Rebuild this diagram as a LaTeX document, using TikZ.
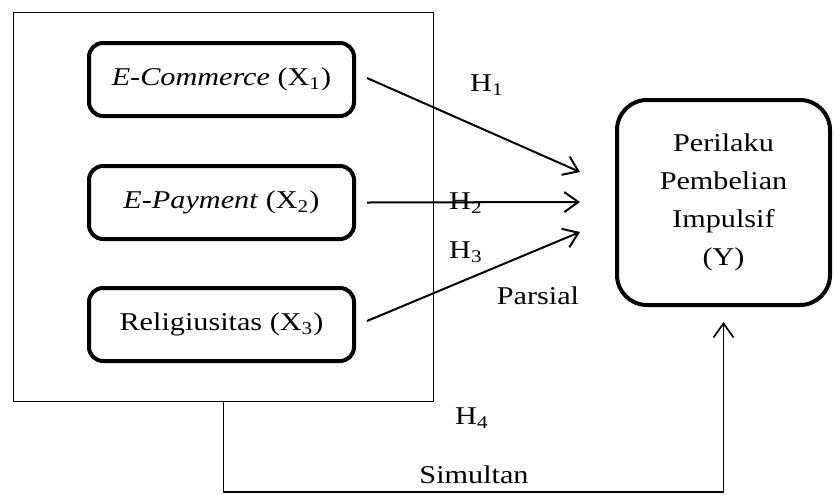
\documentclass[tikz,border=0pt]{standalone}
\usepackage{fontspec}
\setmainfont{Liberation Serif}
\usepackage{graphicx}
\usetikzlibrary{arrows.meta}
\newcommand{\hs}[1]{\scalebox{1.18}[1]{#1}}
\begin{document}
\begin{tikzpicture}[x=0.5pt,y=-0.5pt,
  varbox/.style={draw, line width=2pt, rounded corners=7pt, minimum width=132.5pt, minimum height=36.5pt, inner sep=0pt},
  ybox/.style={draw, line width=2pt, rounded corners=15pt, minimum width=106.5pt, minimum height=102.5pt, inner sep=0pt, align=center},
  frame/.style={draw, line width=0.65pt, minimum width=210pt, minimum height=194.5pt, inner sep=0pt},
  harrow/.style={line width=1pt, -{Straight Barb[length=7pt,width=10pt]}},
  conn/.style={line width=0.85pt, -{Straight Barb[length=7pt,width=10pt]}},
  lbl/.style={inner sep=0pt},
  font=\fontsize{12.8}{19}\selectfont]
\useasboundingbox (0,0) rectangle (835,494);
\node[frame] (outer) at (223.5,207) {};
\node[varbox] (b1) at (221.5,79.5) {\hs{\textit{E-Commerce} (X\textsubscript{1})}};
\node[varbox] (b2) at (221.5,202.5) {\hs{\textit{E-Payment} (X\textsubscript{2})}};
\node[varbox] (b3) at (221.5,324.5) {\hs{Religiusitas (X\textsubscript{3})}};
\node[ybox] (Y) at (723.5,202.5) {\hs{Perilaku}\\ \hs{Pembelian}\\ \hs{Impulsif}\\ \hs{(Y)}};
\coordinate (t1) at (580,172);
\coordinate (t2) at (580,202);
\coordinate (t3) at (580,232);
\node[lbl] (h1) at (487,85) {\hs{H\textsubscript{1}}};
\node[lbl] (h2) at (466,203) {\hs{H\textsubscript{2}}};
\node[lbl] (h3) at (466,252) {\hs{H\textsubscript{3}}};
\node[lbl] (parsial) at (538,296) {\hs{Parsial}};
\node[lbl] (h4) at (472,418) {\hs{H\textsubscript{4}}};
\node[lbl] (simultan) at (474,475) {\hs{Simultan}};
\draw[harrow] ([xshift=5.5pt,yshift=0.75pt]b1.east) -- (t1);
\draw[harrow] ([xshift=5.5pt]b2.east) -- (t2);
\draw[harrow] ([xshift=5.5pt,yshift=1.75pt]b3.east) -- (t3);
\draw[conn] (outer.south) -- ++(0,90) -| ([yshift=-7.5pt]Y.south);
\end{tikzpicture}
\end{document}
